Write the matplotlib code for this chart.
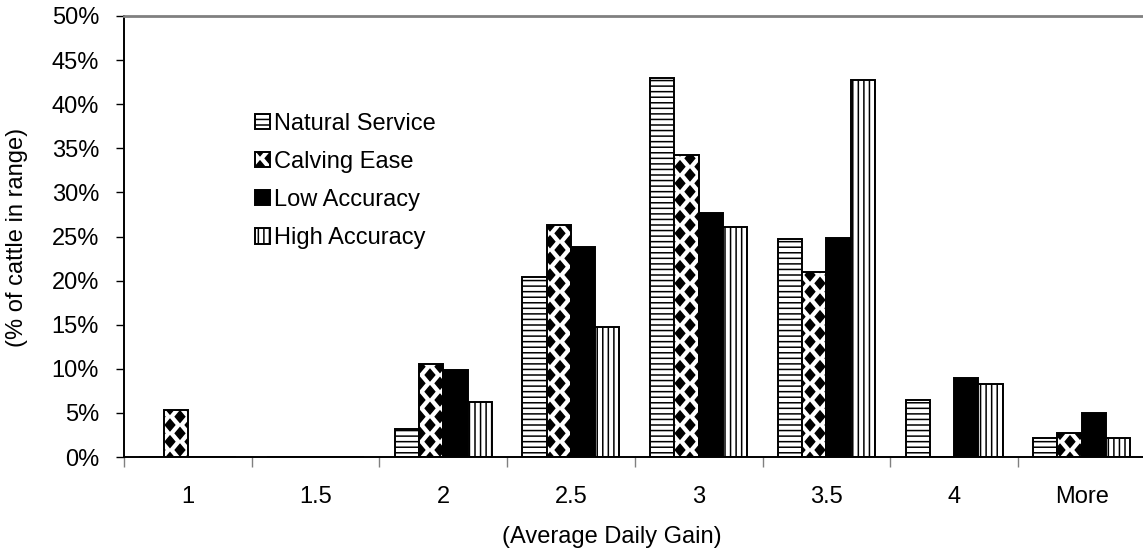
import matplotlib
matplotlib.use("Agg")
import matplotlib.pyplot as plt
import matplotlib.hatch as mhatch
import numpy as np
from matplotlib.path import Path
from matplotlib.ticker import PercentFormatter, FixedLocator

# data (% of cattle in range)
categories = ['1', '1.5', '2', '2.5', '3', '3.5', '4', 'More']
natural_service = [0, 0, 3.2, 20.4, 43.0, 24.7, 6.5, 2.2]
calving_ease = [5.3, 0, 10.5, 26.3, 34.2, 21.0, 0, 2.7]
low_accuracy = [0, 0, 9.9, 23.8, 27.7, 24.8, 9.0, 5.0]
high_accuracy = [0, 0, 6.2, 14.7, 26.1, 42.7, 8.3, 2.1]
series_names = ['Natural Service', 'Calving Ease', 'Low Accuracy', 'High Accuracy']


# filled diamond hatch (Excel style checker), hooked on the '*' hatch char
class Diamonds(mhatch.HatchPatternBase):
    nx = 5      # diamonds per unit, horizontally
    m = 6       # diamonds per unit, vertically
    hx = 0.047
    hy = 0.056

    def __init__(self, hatch, density):
        self.on = hatch.count('*') > 0
        n_even = (self.m + 1) * (self.nx + 1)
        n_odd = self.m * self.nx
        self.num_vertices = (n_even + n_odd) * 5 if self.on else 0

    def set_vertices_and_codes(self, vertices, codes):
        shape = np.array([[0, -self.hy], [self.hx, 0], [0, self.hy],
                          [-self.hx, 0], [0, -self.hy]])
        scodes = [Path.MOVETO, Path.LINETO, Path.LINETO, Path.LINETO, Path.CLOSEPOLY]
        parts = []
        cparts = []
        for j in range(2 * self.m + 1):
            y = j / (2 * self.m)
            if j % 2 == 0:
                xs = np.arange(self.nx + 1) / self.nx
            else:
                xs = (np.arange(self.nx) + 0.5) / self.nx
            for x in xs:
                parts.append(shape + [x, y])
                cparts.append(scodes)
        np.concatenate(parts, out=vertices)
        np.concatenate(cparts, out=codes)


mhatch._hatch_types = [Diamonds if t is mhatch.Stars else t for t in mhatch._hatch_types]

plt.rcParams['font.family'] = ['Liberation Sans', 'DejaVu Sans']
plt.rcParams['font.size'] = 17
plt.rcParams['hatch.linewidth'] = 1.1
plt.rcParams['hatch.color'] = 'black'

fig = plt.figure(figsize=(11.43, 5.55), dpi=100)
ax = fig.add_axes([124 / 1143, 98 / 555, 1021.6 / 1143, 441 / 555])

x = np.arange(len(categories))
width = 0.19
all_series = [natural_service, calving_ease, low_accuracy, high_accuracy]
hatches = ['---', '*', None, '|||']
faces = ['white', 'white', 'black', 'white']

for k, (vals, name) in enumerate(zip(all_series, series_names)):
    offs = (k - 1.5) * width
    ax.bar(x + offs, np.array(vals) / 100, width, color=faces[k], edgecolor='black',
           linewidth=1.4, hatch=hatches[k], label=name, zorder=2)

ax.set_xlim(-0.5, len(categories) - 0.5)
ax.set_ylim(0, 0.5)
ax.set_yticks(np.arange(0, 0.501, 0.05))
ax.yaxis.set_major_formatter(PercentFormatter(1.0, decimals=0))
ax.tick_params(axis='y', direction='out', length=6, width=1, pad=12, colors='black')

ax.set_xticks(x)
ax.set_xticklabels(categories)
ax.xaxis.set_minor_locator(FixedLocator(np.arange(-0.5, len(categories), 1.0)))
ax.tick_params(axis='x', which='major', length=0, pad=21)
ax.tick_params(axis='x', which='minor', length=7, width=1, color='#808080')

ax.spines['right'].set_visible(False)
ax.spines['top'].set_color('#808080')
ax.spines['top'].set_linewidth(2)
ax.spines['left'].set_linewidth(1.4)
ax.spines['bottom'].set_linewidth(1.4)

# axis titles, placed like the spreadsheet did (centred on the chart area)
fig.text(17 / 1143, 1 - 237 / 555, '(% of cattle in range)', rotation=90,
         ha='center', va='center')
fig.text(612 / 1143, 1 - 537 / 555, '(Average Daily Gain)', ha='center', va='center')

leg = ax.legend(loc='upper left', bbox_to_anchor=(255 / 1143, 1 - 113 / 555),
                bbox_transform=fig.transFigure, frameon=False, borderpad=0,
                handlelength=0.62, handleheight=0.62, handletextpad=0.2,
                labelspacing=0.68, borderaxespad=0)

fig.savefig('out.png', dpi=100)
